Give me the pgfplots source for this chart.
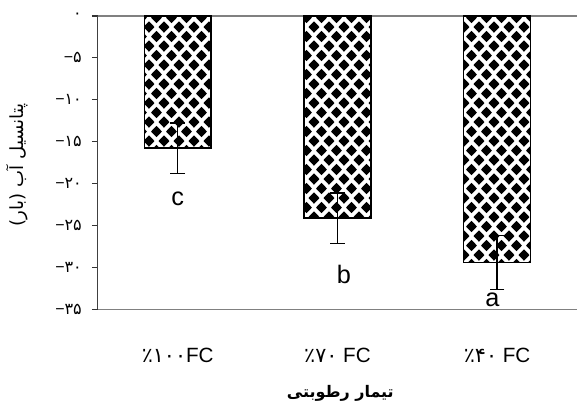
\documentclass[border=0pt]{standalone}
\usepackage{fontspec}
\setmainfont{Liberation Sans}
\newfontfamily\fa[Script=Arabic]{DejaVu Sans}
\TeXXeTstate=1
\usepackage{pgfplots}
\pgfplotsset{compat=1.18}
\usetikzlibrary{patterns}

% black diamond
\newcommand\dia[2]{%
  \pgfpathmoveto{\pgfpoint{#1-4.1pt}{#2}}%
  \pgfpathlineto{\pgfpoint{#1}{#2+4.3pt}}%
  \pgfpathlineto{\pgfpoint{#1+4.1pt}{#2}}%
  \pgfpathlineto{\pgfpoint{#1}{#2-4.3pt}}%
  \pgfpathclose}
\pgfdeclarepatternformonly{mydiamonds}{\pgfpointorigin}{\pgfpoint{11.25pt}{14.25pt}}{\pgfpoint{11.25pt}{14.25pt}}{%
  \dia{5.625pt}{7.125pt}%
  \dia{0pt}{0pt}\dia{11.25pt}{0pt}\dia{0pt}{14.25pt}\dia{11.25pt}{14.25pt}%
  \pgfusepath{fill}}

\begin{document}
\begin{tikzpicture}
\begin{axis}[
  at={(0,0)}, anchor=south west,
  scale only axis, width=360pt, height=220.5pt,
  xmin=-0.5, xmax=2.5, ymin=-35, ymax=0,
  ybar, bar width=50.25pt,
  xtick={0,1,2},
  xticklabels={{{\fa ٪۱۰۰}FC},{{\fa ٪۷۰} FC},{{\fa ٪۴۰} FC}},
  xticklabel style={anchor=center, yshift=-30pt, font=\fontsize{15.5}{18}\selectfont},
  ytick={-35,-30,-25,-20,-15,-10,-5,0},
  yticklabels={−{\fa ۳۵},−{\fa ۳۰},−{\fa ۲۵},−{\fa ۲۰},−{\fa ۱۵},−{\fa ۱۰},−{\fa ۵},{\fa ۰}},
  yticklabel style={font=\fontsize{12}{14}\selectfont, anchor=east, xshift=-4pt},
  ytick pos=left, tick align=outside, major tick length=4.5pt,
  xtick style={draw=none},
  ytick style={black!80, line width=0.8pt},
  axis line style={draw=none},
  clip=false,
  xlabel={\fa\bfseries\beginR تیمار رطوبتی\endR},
  xlabel style={at={(rel axis cs:0.506,-0.285)}, anchor=center, font=\fontsize{12}{14}\selectfont},
  ylabel={\fa\beginR پتانسیل آب (بار)\endR},
  ylabel style={at={(rel axis cs:-0.169,0.493)}, anchor=center, font=\fontsize{13.6}{15}\selectfont},
]
\draw[gray, line width=1.2pt] (rel axis cs:0,1) -- (rel axis cs:1,1);
\draw[gray, line width=1.2pt] (rel axis cs:0,0) -- (rel axis cs:1,0);
\draw[black!75, line width=1pt] (rel axis cs:0,0) -- (rel axis cs:0,1);
\addplot[draw=black, line width=1pt, pattern=mydiamonds, pattern color=black,
  error bars/.cd, y dir=both, y explicit,
  error bar style={line width=1pt, black},
  error mark options={rotate=90, mark size=5.5pt, line width=1pt, black}]
  coordinates {(0,-15.75) +- (0,3.0) (1,-24.1) +- (0,3.0) (2,-29.4) +- (0,3.2)};
\node[font=\fontsize{19}{22}\selectfont] at (axis cs:0,-21.8) {c};
\node[font=\fontsize{19}{22}\selectfont] at (axis cs:1.04,-30.8) {b};
\node[font=\fontsize{19}{22}\selectfont] at (axis cs:1.97,-33.8) {a};
\end{axis}
\pgfresetboundingbox
\path (-73.5pt,-72.75pt) rectangle (360pt,232.5pt);
\end{tikzpicture}
\end{document}
